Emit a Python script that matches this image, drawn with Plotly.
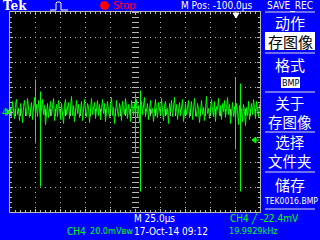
import plotly.graph_objects as go

# ---------------- data ----------------
# time axis: 25 us/div, 10 divisions -> 0..249 us (1 sample per us)
time_us = list(range(250))
# CH4 waveform in mV (20 mV/div)
wave_mv = [
    4.0, -3.2, 8.8, 1.6, -4.8, 6.4, 10.4, -1.6, 3.2, -6.4,
    7.2, 2.4, -8.0, 4.8, 9.6, 0.8, -2.4, 11.2, 5.6, -4.0,
    1.6, 8.0, -5.6, 3.2, 12.0, -0.8, 6.4, -3.2, 9.6, 2.4,
    -7.2, 4.0, 10.4, -1.6, 5.6, -9.6, 2.4, 7.2, -4.0, 0.8,
    8.8, -2.4, 4.8, 11.2, -6.4, 1.6, 6.4, -3.2, 9.6, 3.2,
    -5.6, 7.2, 0.8, -8.8, 5.6, 10.4, -1.6, 3.2, 8.0, -4.8,
    2.4, 12.8, -2.4, 5.6, -7.2, 4.0, 9.6, -0.8, 6.4, -4.0,
    1.6, 8.8, -6.4, 3.2, 10.4, 0.8, -3.2, 7.2, 4.8, -8.0,
    5.6, 11.2, -1.6, 2.4, 8.0, -4.8, 4.0, 9.6, -2.4, 6.4,
    -5.6, 3.2, 10.4, -0.8, 7.2, -7.2, 4.8, 8.8, 1.6, -4.0,
    6.4, 12.0, -2.4, 4.0, -8.8, 5.6, 9.6, 0.8, -3.2, 7.2,
    3.2, -6.4, 8.8, 2.4, -1.6, 11.2, 4.8, -4.8, 6.4, 1.6,
    -7.2, 9.6, 3.2, -2.4, 7.2, 0.8, 10.4, -4.0, 5.6, -8.0,
    4.0, 8.8, -1.6, 6.4, 12.0, -3.2, 2.4, 7.2, -5.6, 4.8,
    9.6, -0.8, 3.2, -7.2, 6.4, 10.4, 1.6, -4.0, 8.0, 2.4,
    -2.4, 11.2, 4.8, -6.4, 5.6, 8.8, -1.6, 3.2, -8.8, 7.2,
    0.8, 9.6, -3.2, 4.8, 12.0, -0.8, 6.4, -5.6, 2.4, 8.0,
    -2.4, 5.6, 10.4, -7.2, 3.2, 7.2, -1.6, 4.8, 9.6, -4.0,
    1.6, 8.8, -5.6, 6.4, 11.2, 0.8, -3.2, 7.2, 2.4, -8.0,
    5.6, 9.6, -1.6, 4.0, -6.4, 8.0, 12.8, -0.8, 3.2, -4.8,
    6.4, 10.4, 1.6, -3.2, 8.8, -7.2, 4.8, 2.4, 11.2, -2.4,
    5.6, -5.6, 7.2, 0.8, 9.6, -4.0, 3.2, 12.0, -1.6, 6.4,
    -8.8, 2.4, 8.0, -3.2, 4.8, -6.4, 7.2, 1.6, -9.6, 5.6,
    -4.0, 3.2, -7.2, 6.4, 0.8, -10.4, 4.0, -2.4, 8.8, -5.6,
    2.4, 7.2, -1.6, 10.4, 4.0, -4.8, 8.8, 1.6, -3.2, 6.4,
]
# narrow glitches (vertical spikes)
spike_t = [25, 30, 125, 130, 225, 230]
spike_top_mv = [26.4, 16.8, 15.2, 17.6, 28.0, 23.2]
spike_bottom_mv = [-24.8, -59.2, -32.0, -63.2, -29.6, -63.2]
trig_level_mv = -22.4

# ---------------- screen geometry helpers (pixels -> paper) ----------------
L, R, T, B = 10, 260, 12, 212


def px(X):
    return (X - L) / (R - L)


def py(Y):
    return (B - Y) / (B - T)


GREEN = "#00FF00"
GRID = "#B8B8B8"
BLUE = "#0000FF"
NARROW = "DejaVu Sans Condensed, Liberation Sans Narrow, Liberation Sans, sans-serif"
CJK = "Noto Sans CJK SC"

fig = go.Figure()

# graticule centre-line ticks
fig.add_trace(go.Scatter(
    x=[125] * 41, y=[-80 + 4 * i for i in range(41)], mode="markers",
    marker=dict(symbol="line-ew", size=5, line=dict(color=GRID, width=1)),
    hoverinfo="skip"))
fig.add_trace(go.Scatter(
    x=list(range(0, 250, 5)), y=[0] * 50, mode="markers",
    marker=dict(symbol="line-ns", size=5, line=dict(color=GRID, width=1)),
    hoverinfo="skip"))

# waveform
fig.add_trace(go.Scatter(x=time_us, y=wave_mv, mode="lines",
                         line=dict(color=GREEN, width=1), hoverinfo="skip"))
sx, sy = [], []
for t, a, b in zip(spike_t, spike_top_mv, spike_bottom_mv):
    sx += [t, t, None]
    sy += [a, b, None]
fig.add_trace(go.Scatter(x=sx, y=sy, mode="lines",
                         line=dict(color=GREEN, width=1), hoverinfo="skip"))

axis_common = dict(
    showgrid=True, gridcolor=GRID, griddash="1px,4px", gridwidth=1,
    zeroline=False, showline=True, linecolor=GRID, linewidth=1,
    mirror="allticks", ticks="inside", ticklen=3, tickcolor=GRID,
    showticklabels=False, fixedrange=True,
)
fig.update_xaxes(range=[-0.5, 249.5], tick0=0, dtick=25,
                 minor=dict(dtick=5, ticks="inside", ticklen=2,
                            tickcolor=GRID, showgrid=False),
                 **axis_common)
fig.update_yaxes(range=[-79.6, 80.4], tick0=0, dtick=20,
                 minor=dict(dtick=4, ticks="inside", ticklen=2,
                            tickcolor=GRID, showgrid=False),
                 **axis_common)

shapes = []
annotations = []


def text(X, Y, s, color="white", size=10, family=NARROW, anchor="left", bg=None):
    annotations.append(dict(
        xref="paper", yref="paper", x=px(X), y=py(Y), text=s, showarrow=False,
        xanchor=anchor, yanchor="middle", borderpad=0,
        font=dict(color=color, size=size, family=family),
        bgcolor=bg))


def hline(X0, X1, Y, color="#E0E0E0"):
    shapes.append(dict(type="line", xref="paper", yref="paper",
                       x0=px(X0), x1=px(X1), y0=py(Y), y1=py(Y),
                       line=dict(color=color, width=1)))


def rect(X0, Y0, X1, Y1, color):
    shapes.append(dict(type="rect", xref="paper", yref="paper",
                       x0=px(X0), x1=px(X1), y0=py(Y0), y1=py(Y1),
                       fillcolor=color, line=dict(width=0), layer="below"))


def path(points, color, fill=None):
    d = "M " + " L ".join(f"{px(a):.5f},{py(b):.5f}" for a, b in points)
    if fill:
        d += " Z"
    shapes.append(dict(type="path", xref="paper", yref="paper", path=d,
                       line=dict(color=color, width=1),
                       fillcolor=fill if fill else "rgba(0,0,0,0)"))


# ---- top status bar ----
text(2, 6, "<b>Tek</b>", size=12, family="DejaVu Serif")
path([(50, 10), (56, 10), (56, 3), (57, 2), (60, 2), (61, 3), (61, 10), (68, 10)], "white")
shapes.append(dict(type="circle", xref="paper", yref="paper",
                   x0=px(100), x1=px(109), y0=py(1), y1=py(10),
                   fillcolor="#FF0000", line=dict(width=0)))
text(112, 6, "Stop", color="#FF0000", size=11)
text(180, 6, "M Pos: -100.0μs", size=10)
text(290, 6, "SAVE_REC", size=10, anchor="center")

# trigger position marker (top) and trigger level marker (right)
path([(233, 13), (239, 13), (236, 18)], "white", fill="white")
path([(252, 140), (256, 137), (256, 143)], GREEN, fill=GREEN)
hline(256, 259, 140, color=GREEN)

# channel 4 ground marker (left)
text(5, 112, "4", color=GREEN, size=10, anchor="center")
path([(7, 109), (10, 112), (7, 115)], GREEN, fill=GREEN)

# ---- right-hand menu ----
for y in (12, 53, 92, 132, 172, 209):
    hline(265, 315, y)
rect(265, 32, 315, 50, "white")
rect(281, 77, 300, 88, "white")
text(290, 22, "动作", size=15, family=CJK, anchor="center")
text(290, 41, "存图像", color="black", size=15, family=CJK, anchor="center")
text(290, 64, "格式", size=15, family=CJK, anchor="center")
text(290.5, 82.5, "BMP", color="black", size=9, anchor="center")
text(290, 112, "关于<br>存图像", size=14.5, family=CJK, anchor="center")
text(290, 151, "选择<br>文件夹", size=14.5, family=CJK, anchor="center")
text(290, 184, "储存", size=15, family=CJK, anchor="center")
text(291, 201, "TEK0016.BMP", size=8.5, anchor="center")

# ---- bottom status ----
text(133, 218, "M 25.0μs", size=10)
text(229, 218, "CH4 ╱ -22.4mV", color=GREEN, size=10)
text(66, 231, "CH4", color=GREEN, size=10)
text(89, 231, "20.0mVʙw", color=GREEN, size=9)
text(133, 231, "17-Oct-14 09:12", size=10)
text(228, 231, "19.9929kHz", color=GREEN, size=9)

fig.update_layout(
    width=320, height=240,
    margin=dict(l=L, r=320 - R, t=T, b=240 - B, pad=0),
    paper_bgcolor=BLUE, plot_bgcolor="#000000",
    showlegend=False, shapes=shapes, annotations=annotations,
    hovermode=False,
)

fig.write_html("out.html", config={"displayModeBar": False, "staticPlot": True})
